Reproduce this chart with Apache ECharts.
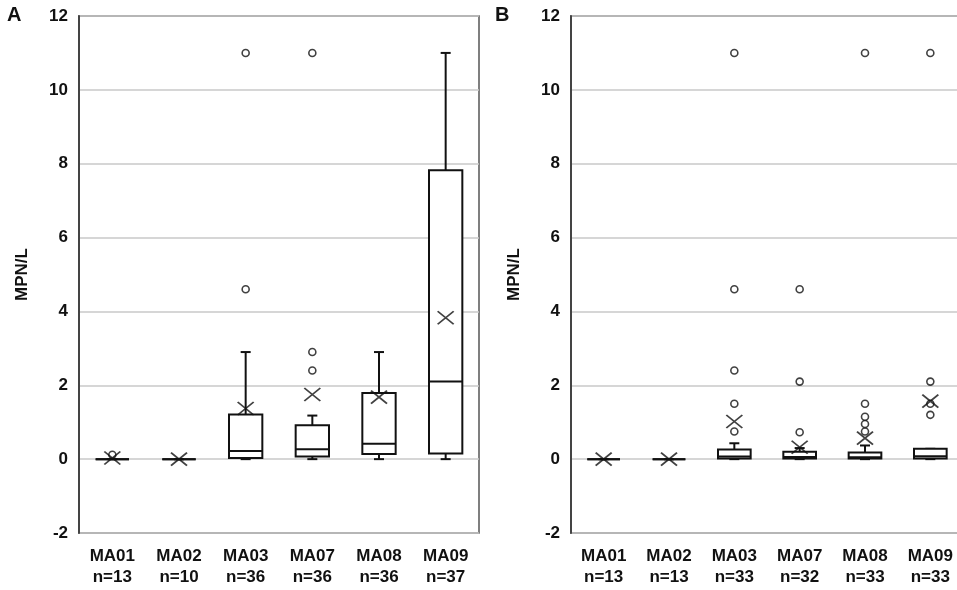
<!DOCTYPE html>
<html>
<head>
<meta charset="utf-8">
<script src="https://cdn.jsdelivr.net/npm/echarts@6/dist/echarts.min.js"></script>
<style>
html,body{margin:0;padding:0;background:#fff;}
#chart{width:957px;height:590px;}
</style>
</head>
<body>
<div id="chart"></div>
<script>
// ---- Data ----
const sites = ['MA01', 'MA02', 'MA03', 'MA07', 'MA08', 'MA09'];
const nA = [13, 10, 36, 36, 36, 37];
const nB = [13, 13, 33, 32, 33, 33];
const yTicks = [-2, 0, 2, 4, 6, 8, 10, 12];

// [min, Q1, median, Q3, max]
const boxA = [
  [0, 0, 0, 0, 0],
  [0, 0, 0, 0, 0],
  [0, 0.03, 0.22, 1.21, 2.9],
  [0, 0.07, 0.27, 0.92, 1.18],
  [0, 0.14, 0.42, 1.79, 2.9],
  [0, 0.15, 2.1, 7.82, 11]
];
const meanA = [0.03, 0, 1.37, 1.75, 1.68, 3.83];
const outliersA = [[0.12], [], [4.6, 11], [2.4, 2.9, 11], [], []];

const boxB = [
  [0, 0, 0, 0, 0],
  [0, 0, 0, 0, 0],
  [0, 0.02, 0.07, 0.26, 0.43],
  [0, 0.02, 0.06, 0.2, 0.3],
  [0, 0.02, 0.05, 0.18, 0.37],
  [0, 0.02, 0.08, 0.28, 0.28]
];
const meanB = [0, 0, 1.02, 0.32, 0.57, 1.57];
const outliersB = [[], [], [0.75, 1.5, 2.4, 4.6, 11], [0.73, 2.1, 4.6], [0.75, 0.95, 1.15, 1.5, 11], [1.2, 1.5, 2.1, 11]];

// ---- Build ----
const INK = '#111';
const FONT = 'Liberation Sans, Arial, sans-serif';

function labels(n) { return sites.map((s, i) => s + '\nn=' + n[i]); }
function boxData(b) { return b.map((v, i) => [i].concat(v)); }
function outData(o) {
  const out = [];
  o.forEach((arr, i) => arr.forEach(v => out.push([i, v])));
  return out;
}
function meanData(m) { return m.map((v, i) => [i, v]); }

function renderBox(params, api) {
  const x = api.value(0);
  const pMin = api.coord([x, api.value(1)]);
  const pQ1 = api.coord([x, api.value(2)]);
  const pMed = api.coord([x, api.value(3)]);
  const pQ3 = api.coord([x, api.value(4)]);
  const pMax = api.coord([x, api.value(5)]);
  const cx = pMed[0];
  const bw = api.size([1, 0])[0] * 0.5;
  const cap = 5;
  const st = { stroke: INK, lineWidth: 2, fill: null };
  return {
    type: 'group',
    children: [
      { type: 'line', shape: { x1: cx, y1: pQ3[1], x2: cx, y2: pMax[1] }, style: st },
      { type: 'line', shape: { x1: cx - cap, y1: pMax[1], x2: cx + cap, y2: pMax[1] }, style: st },
      { type: 'line', shape: { x1: cx, y1: pQ1[1], x2: cx, y2: pMin[1] }, style: st },
      { type: 'line', shape: { x1: cx - cap, y1: pMin[1], x2: cx + cap, y2: pMin[1] }, style: st },
      { type: 'rect', shape: { x: cx - bw / 2, y: pQ3[1], width: bw, height: pQ1[1] - pQ3[1] },
        style: { stroke: INK, lineWidth: 2, fill: '#fff' } },
      { type: 'line', shape: { x1: cx - bw / 2, y1: pMed[1], x2: cx + bw / 2, y2: pMed[1] }, style: st }
    ]
  };
}

const grids = [
  { left: 79, top: 16, width: 400, height: 517 },
  { left: 571, top: 16, width: 392, height: 517 }
];

function xAxis(idx, n) {
  return {
    type: 'category', gridIndex: idx, data: labels(n), boundaryGap: true,
    axisLine: { show: false },
    axisTick: { show: false },
    axisLabel: { color: '#111', fontFamily: FONT, fontWeight: 'bold', fontSize: 17, lineHeight: 21, margin: 13, interval: 0 }
  };
}
function yAxis(idx) {
  return {
    type: 'value', gridIndex: idx, min: yTicks[0], max: yTicks[yTicks.length - 1], interval: 2,
    name: 'MPN/L', nameLocation: 'middle', nameGap: 48,
    nameTextStyle: { color: '#111', fontFamily: FONT, fontWeight: 'bold', fontSize: 17 },
    axisLine: { show: true, lineStyle: { color: '#444', width: 2 } },
    axisTick: { show: false },
    axisLabel: { color: '#111', fontFamily: FONT, fontWeight: 'bold', fontSize: 17, margin: 11 },
    splitLine: { show: true, lineStyle: { color: '#c8c8c8', width: 1.5 } }
  };
}

function seriesFor(idx, box, mean, outs) {
  return [
    { type: 'custom', xAxisIndex: idx, yAxisIndex: idx, renderItem: renderBox,
      encode: { x: 0, y: [1, 2, 3, 4, 5] }, data: boxData(box), z: 2, silent: true },
    { type: 'scatter', xAxisIndex: idx, yAxisIndex: idx, data: outData(outs),
      symbol: 'circle', symbolSize: 7, z: 3,
      itemStyle: { color: '#fff', borderColor: INK, borderWidth: 1.6 } },
    { type: 'scatter', xAxisIndex: idx, yAxisIndex: idx, data: meanData(mean),
      symbol: 'path://M0,0L16,13M16,0L0,13', symbolSize: [16, 13], z: 4,
      itemStyle: { color: 'none', borderColor: INK, borderWidth: 1.7 } }
  ];
}

const chart = echarts.init(document.getElementById('chart'), null, { renderer: 'canvas' });
chart.setOption({
  animation: false,
  backgroundColor: '#fff',
  grid: grids.map(g => Object.assign({ show: true, borderColor: '#555', borderWidth: 1.5, backgroundColor: '#fff', outerBoundsMode: 'none', containLabel: false }, g)),
  xAxis: [xAxis(0, nA), xAxis(1, nB)],
  yAxis: [yAxis(0), yAxis(1)],
  graphic: [
    { type: 'text', left: 7, top: 5, style: { text: 'A', font: 'bold 20px ' + FONT, fill: '#111' } },
    { type: 'text', left: 495, top: 5, style: { text: 'B', font: 'bold 20px ' + FONT, fill: '#111' } }
  ],
  series: [].concat(seriesFor(0, boxA, meanA, outliersA), seriesFor(1, boxB, meanB, outliersB))
});
</script>
</body>
</html>
